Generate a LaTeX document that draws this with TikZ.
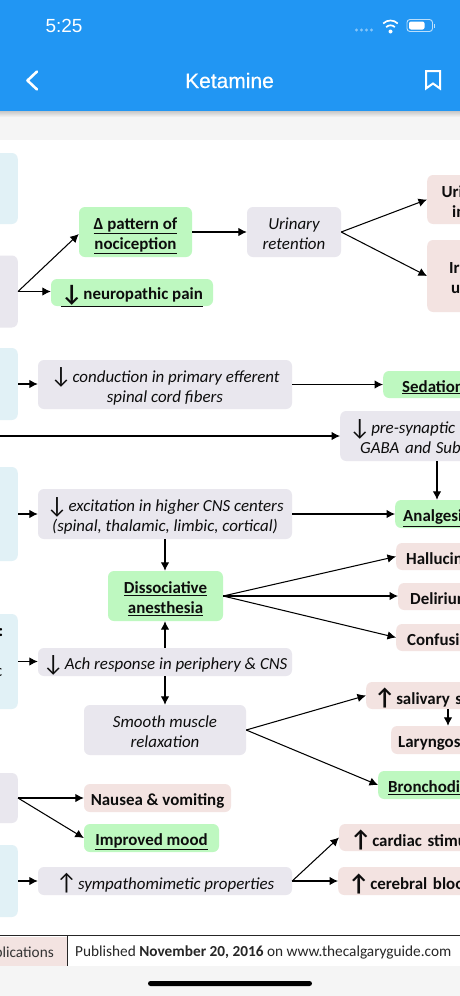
\documentclass[tikz,border=0pt]{standalone}
\usepackage{fontspec}
\setmainfont{Carlito}
\newfontfamily\uifont{Liberation Sans}
\newfontfamily\titlefont[FakeBold=0.35]{Liberation Sans}
\usetikzlibrary{arrows.meta}
\definecolor{hdrblue}{HTML}{2196F3}
\definecolor{pagegray}{HTML}{F5F5F5}
\definecolor{boxgray}{HTML}{E9E7EE}
\definecolor{boxgreen}{HTML}{BEF8C0}
\definecolor{boxpink}{HTML}{F3E3E1}
\definecolor{boxblue}{HTML}{E1F1F6}
\newcommand{\bodysize}{\fontsize{16.9}{20}\selectfont}
\newcommand{\tlc}[1]{\raisebox{-3.5pt}[\height][\depth]{\begin{tabular}{@{}c@{}}#1\end{tabular}}}
\newcommand{\tll}[1]{\raisebox{-3.5pt}[\height][\depth]{\begin{tabular}{@{}l@{}}#1\end{tabular}}}
\newcommand{\dnarrow}{\raisebox{-1.5pt}{\scalebox{1.4}{\upshape ↓}}\kern-3pt}
\newcommand{\uparr}{\raisebox{-1.5pt}{\scalebox{1.4}{\upshape ↑}}\kern-3pt}
\tikzset{
 base/.style={rounded corners=6pt,inner sep=0pt,align=center,text=black!95,font=\bodysize},
 grayit/.style={base,fill=boxgray,font=\bodysize\itshape},
 greenb/.style={base,fill=boxgreen,font=\bodysize\bfseries},
 pinkb/.style={base,fill=boxpink,font=\bodysize\bfseries},
 sideblue/.style={base,fill=boxblue,minimum width=38pt,anchor=east},
 sidegray/.style={base,fill=boxgray,minimum width=38pt,anchor=east},
 edgebox/.style={anchor=west,align=left,text width=220pt},
 conn/.style={-{Latex[length=8.5pt,width=8.5pt]},line width=1.05pt,black},
 frag/.style={inner sep=0pt,anchor=west,font=\bodysize\bfseries},
 uitext/.style={inner sep=0pt,text=white}
}
\begin{document}
\begin{tikzpicture}[x=1pt,y=-1pt]
\useasboundingbox (0,0) rectangle (460,996);
\clip (0,0) rectangle (460,996);
% page
\fill[pagegray] (0,0) rectangle (460,996);
\fill[white] (0,140) rectangle (460,966);
\shade[top color=black!22,bottom color=pagegray] (0,111) rectangle (460,117);
\fill[hdrblue] (0,0) rectangle (460,111);
% status and app bar
\node[uitext,font=\uifont\fontsize{19}{22}\selectfont] (clock) at (64,25.5) {5:25};
\node[uitext,font=\titlefont\fontsize{21}{24}\selectfont] (title) at (229.5,80.5) {Ketamine};
\foreach \dx in {356.5,361.5,366.5,371.5}{\fill[white!45!hdrblue] (\dx,30) circle (1.6pt);}
\begin{scope}[shift={(390.5,31.5)}]
 \fill[white] (0,0) circle (2pt);
 \draw[white,line width=1.7pt] (-4.3,-4.4) arc[start angle=225,end angle=315,radius=6.1pt,y radius=-6.1pt];
 \draw[white,line width=1.7pt] (-7.3,-8) arc[start angle=225,end angle=315,radius=10.3pt,y radius=-10.3pt];
\end{scope}
\draw[white!70!hdrblue,line width=0.9pt,rounded corners=3pt] (407,19.5) rectangle (432.5,31.5);
\fill[white,rounded corners=2pt] (409,21.5) rectangle (424.5,29.5);
\fill[white!70!hdrblue] (434,23.5) rectangle (435,27.5);
\draw[white,line width=2.6pt,line cap=round,line join=round] (37,71.5) -- (27.5,80.5) -- (37,89.5);
\draw[white,line width=2pt,line join=miter] (426,71) -- (440,71) -- (440,88.5) -- (433,83.5) -- (426,88.5) -- cycle;

% side boxes at the left edge
\node[sideblue,minimum height=71pt] (sb1) at (18,188.5) {};
\node[sidegray,minimum height=72pt] (sg1) at (18,291.5) {};
\node[sideblue,minimum height=72pt] (sb2) at (18,384) {};
\node[sideblue,minimum height=94pt] (sb3) at (18,514) {};
\node[sideblue,minimum height=95pt] (sb4) at (18,661.5) {};
\node[sidegray,minimum height=50pt] (sg2) at (18,798) {};
\node[sideblue,minimum height=72pt] (sb5) at (18,881) {};
\node[frag] (fa) at (-1.5,633) {:};
\node[frag,font=\bodysize] (fb) at (-5,672.5) {c};
\coordinate (longstart) at (0,436);

% middle boxes
\node[greenb,minimum width=113pt,minimum height=50pt] (pattern) at (135.5,232) {\tlc{\underline{Δ pattern of}\\\underline{nociception}}};
\node[grayit,minimum width=94pt,minimum height=50pt] (urinary) at (294,232) {\tlc{Urinary\\retention}};
\node[greenb,minimum width=162pt,minimum height=27pt] (neuro) at (132,292.5) {\tlc{\underline{\dnarrow{} neuropathic pain}}};
\node[grayit,minimum width=254pt,minimum height=49pt] (conduct) at (165,384.5) {\tlc{\dnarrow{} conduction in primary efferent\\spinal cord fibers}};
\node[grayit,minimum width=254pt,minimum height=50pt] (excite) at (165,514) {\tlc{\dnarrow{} excitation in higher CNS centers\\(spinal, thalamic, limbic, cortical)}};
\node[greenb,minimum width=115pt,minimum height=50pt] (dissoc) at (165.5,596) {\tlc{\underline{Dissociative}\\\underline{anesthesia}}};
\node[grayit,minimum width=254pt,minimum height=28pt] (ach) at (165,662) {\tlc{\dnarrow{} Ach response in periphery \& CNS}};
\node[grayit,minimum width=162pt,minimum height=50pt] (smooth) at (165,730) {\tlc{Smooth muscle\\relaxation}};
\node[pinkb,minimum width=147pt,minimum height=28pt] (nausea) at (157.5,798) {\tlc{Nausea \& vomiting}};
\node[greenb,minimum width=135pt,minimum height=28pt] (mood) at (151.5,838) {\tlc{\underline{Improved mood}}};
\node[grayit,minimum width=254pt,minimum height=28pt] (symp) at (165,881) {\tlc{\uparr{} sympathomimetic properties}};

% boxes cut off by the right edge
\node[pinkb,edgebox,minimum height=49pt] (uri) at (427,199.5) {\tll{\hspace*{14.5pt}Uri\\\hspace*{25pt}in}};
\node[pinkb,edgebox,minimum height=72pt] (ir) at (427,276) {\tll{\hspace*{22pt}Ir\\\hspace*{24pt}u}};
\node[greenb,edgebox,minimum height=27pt] (sed) at (383,384.5) {\tll{\hspace*{19pt}\underline{Sedation}}};
\node[grayit,edgebox,minimum height=50pt] (presyn) at (340,436) {\tll{\hspace*{9pt}\dnarrow{}\kern-2pt{} pre-synaptic r\\\hspace*{20pt}GABA and\kern-1pt{} Subs}};
\node[greenb,edgebox,minimum height=28pt] (analg) at (395,514) {\tll{\hspace*{8pt}\underline{Analgesi}}};
\node[pinkb,edgebox,minimum height=27pt] (halluc) at (396,556.5) {\tll{\hspace*{10pt}Hallucin}};
\node[pinkb,edgebox,minimum height=27pt] (delir) at (398,596.5) {\tll{\hspace*{12pt}Delirium}};
\node[pinkb,edgebox,minimum height=27pt] (confus) at (396,637.5) {\tll{\hspace*{11pt}Confusi}};
\node[pinkb,edgebox,minimum height=27pt] (saliv) at (366,695.5) {\tll{\hspace*{8pt}\uparr{}\kern-2pt{} salivary se}};
\node[pinkb,edgebox,minimum height=28pt] (laryn) at (391,740) {\tll{\hspace*{7pt}Laryngos}};
\node[greenb,edgebox,minimum height=28pt] (bronch) at (378,785) {\tll{\hspace*{10pt}\underline{Bronchodi}}};
\node[pinkb,edgebox,minimum height=27pt] (cardiac) at (339,837.5) {\tll{\hspace*{11pt}\uparr{}\kern-2pt{} cardiac stimu}};
\node[pinkb,edgebox,minimum height=28pt] (cereb) at (338,881) {\tll{\hspace*{10pt}\uparr{}\kern-2pt{} cerebral bloo}};

% connectors
\draw[conn] (sg1.east) -- (pattern.south west |- 79,234);
\draw[conn] (sg1.east) -- (neuro.west |- sg1.east);
\draw[conn] (pattern.east) -- (urinary.west);
\draw[conn] (urinary.east) -- (uri.west);
\draw[conn] (urinary.east) -- (ir.west);
\draw[conn] (sb2.east) -- (conduct.west |- sb2.east);
\draw[conn] (conduct.east) -- (sed.west);
\draw[conn] (longstart) -- (presyn.west);
\draw[conn] (presyn.south -| 437,0) -- (analg.north -| 437,0);
\draw[conn] (sb3.east) -- (excite.west);
\draw[conn] (excite.east) -- (analg.west);
\draw[conn] (excite.south) -- (dissoc.north -| excite.south);
\draw[conn] (dissoc.east) -- (halluc.west);
\draw[conn] (dissoc.east) -- (delir.west |- dissoc.east);
\draw[conn] (dissoc.east) -- (confus.west);
\draw[conn] (sb4.east) -- (ach.west |- sb4.east);
\draw[conn] (ach.north) -- (dissoc.south -| ach.north);
\draw[conn] (ach.south) -- (smooth.north);
\draw[conn] (smooth.east) -- (saliv.west);
\draw[conn] (smooth.east) -- (bronch.west);
\draw[conn] (saliv.south -| 448,0) -- (laryn.north -| 448,0);
\draw[conn] (sg2.east) -- (nausea.west);
\draw[conn] (sg2.east) -- (mood.west);
\draw[conn] (sb5.east) -- (symp.west);
\draw[conn] (symp.east) -- (cardiac.west);
\draw[conn] (symp.east) -- (cereb.west);

% footer
\fill[boxpink] (0,937) rectangle (67,966);
\draw[black!85,line width=0.9pt] (0,935) -- (460,935);
\draw[black!85,line width=0.9pt] (67.5,935) -- (67.5,966);
\node[inner sep=0pt,anchor=east,text=black!80,font=\fontsize{15.3}{18}\selectfont] (fleft) at (54,953) {plications};
\node[inner sep=0pt,anchor=west,text=black!85,font=\fontsize{15.3}{18}\selectfont] (fright) at (75,952.5) {Published \textbf{November 20, 2016} on www.thecalgaryguide.com};
\fill[black,rounded corners=2.5pt] (148,981) rectangle (312,986);
\end{tikzpicture}
\end{document}
